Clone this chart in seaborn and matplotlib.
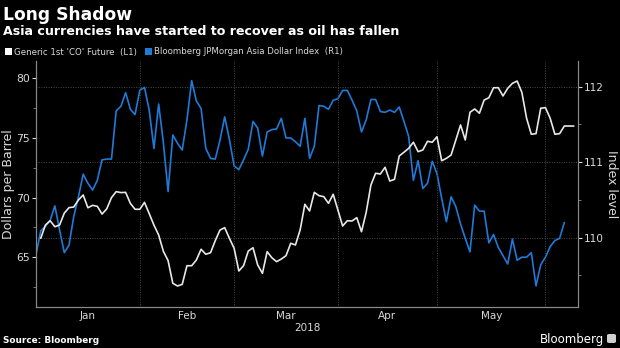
import numpy as np
import pandas as pd
import matplotlib
matplotlib.use("Agg")
import matplotlib.pyplot as plt
from matplotlib.patches import Patch, FancyBboxPatch
from matplotlib.ticker import MultipleLocator, FixedLocator, NullFormatter
import seaborn as sns

# ---------------- data ----------------
title = "Long Shadow"
subtitle = "Asia currencies have started to recover as oil has fallen"
oil_label = "Generic 1st 'CO' Future  (L1)"
fx_label = "Bloomberg JPMorgan Asia Dollar Index  (R1)"
left_label = "Dollars per Barrel"
right_label = "Index level"
year_label = "2018"
source_text = "Source: Bloomberg"
brand_text = "Bloomberg"

trading_days = pd.bdate_range("2018-01-02", periods=115)

nan = np.nan
oil = [nan, 66.59, 67.70, 68.06, 67.56, 67.70, 68.70, 69.16, 69.21, 69.80,
       70.22, 69.15, 69.35, 69.27, 68.62, 69.06, 70.00, 70.50, 70.42, 70.44,
       69.52, 69.02, 69.02, 69.60, 68.66, 67.70, 66.87, 65.50, 64.72, 62.82,
       62.59, 62.73, 64.29, 64.29, 64.77, 65.67, 65.25, 65.38, 66.39, 67.28,
       67.48, 66.59, 65.75, 63.85, 64.29, 65.52, 65.80, 64.35, 63.65, 65.47,
       64.96, 64.63, 64.85, 65.13, 66.17, 66.03, 67.30, 69.44, 68.88, 70.44,
       70.16, 70.08, 69.52, 70.28, 68.96, 67.62, 68.06, 68.04, 68.32, 67.14,
       68.77, 71.06, 72.04, 71.98, 72.54, 71.39, 71.53, 73.49, 73.80, 74.13,
       74.64, 73.85, 73.99, 74.72, 74.64, 75.10, 73.09, 73.29, 73.57, 74.83,
       76.09, 74.83, 77.15, 77.43, 77.07, 78.18, 78.37, 79.21, 79.21, 78.52,
       79.16, 79.58, 79.77, 78.82, 76.65, 75.31, 75.36, 77.49, 77.54, 76.65,
       75.31, 75.36, 76.00, 76.00, 76.00]

fx = [109.77, 110.09, 110.15, 110.23, 110.42, 110.10, 109.80, 109.90, 110.28, 110.54,
      110.84, 110.72, 110.63, 110.76, 111.03, 111.04, 111.04, 111.68, 111.74, 111.92,
      111.70, 111.63, 111.95, 111.99, 111.69, 111.18, 111.77, 111.26, 110.61, 111.36,
      111.25, 111.16, 111.56, 112.08, 111.81, 111.71, 111.18, 111.05, 111.04, 111.29,
      111.60, 111.30, 110.95, 110.90, 111.03, 111.17, 111.54, 111.45, 111.08, 111.40,
      111.43, 111.44, 111.58, 111.32, 111.32, 111.27, 111.21, 111.58, 111.05, 111.21,
      111.75, 111.74, 111.70, 111.82, 111.84, 111.95, 111.95, 111.82, 111.68, 111.40,
      111.56, 111.83, 111.83, 111.67, 111.66, 111.69, 111.66, 111.73, 111.54, 111.34,
      110.76, 111.02, 110.65, 110.72, 111.01, 110.85, 110.52, 110.21, 110.54, 110.41,
      110.18, 109.99, 109.81, 110.43, 110.35, 110.35, 109.93, 110.04, 109.87, 109.76,
      109.65, 109.98, 109.70, 109.74, 109.74, 109.80, 109.36, 109.64, 109.74, 109.88,
      109.96, 109.99, 110.20, nan, nan]

# ---------------- style ----------------
BG = "#000000"
WHITE_LINE = "#e8e8e8"
BLUE_LINE = "#1f7ad8"
TXT = "#d9d9d9"
SPINE = "#8a8a8a"
GRID = "#4a4a4a"

sns.set_style("dark", {"axes.facecolor": BG, "figure.facecolor": BG})
plt.rcParams["font.family"] = ["DejaVu Sans"]

df = pd.DataFrame({"date": trading_days, "oil": oil, "fx": fx})
df["pos"] = np.arange(len(df))

fig = plt.figure(figsize=(6.2, 3.48), dpi=100, facecolor=BG)
ax = fig.add_axes([36 / 620, 1 - 307 / 348, (578 - 36) / 620, (307 - 61) / 348])
ax.set_facecolor(BG)
ax2 = ax.twinx()

sns.lineplot(data=df.dropna(subset=["fx"]), x="pos", y="fx", ax=ax2,
             color=BLUE_LINE, linewidth=1.2)
sns.lineplot(data=df.dropna(subset=["oil"]), x="pos", y="oil", ax=ax,
             color=WHITE_LINE, linewidth=1.2)
ax.set_zorder(ax2.get_zorder() + 1)
ax.patch.set_visible(False)

ax.set_xlim(0, 114.9)
ax.set_ylim(60.83, 81.45)
ax2.set_ylim(109.08, 112.34)

# month boundaries from the dates
months = df["date"].dt.month.values
starts = [0] + [i for i in range(1, len(months)) if months[i] != months[i - 1]]
label_pos = [(starts[k] + starts[k + 1]) / 2 for k in range(len(starts) - 1)]
label_txt = [df["date"].iloc[starts[k]].strftime("%b") for k in range(len(starts) - 1)]

ax.xaxis.set_major_locator(FixedLocator(starts))
ax.xaxis.set_major_formatter(NullFormatter())
ax.set_xticks(label_pos, minor=True)
ax.set_xticklabels(label_txt, minor=True)
ax.tick_params(axis="x", which="major", length=3, color=SPINE, direction="out")
ax.tick_params(axis="x", which="minor", length=0, labelsize=7.5, labelcolor=TXT, pad=3)
ax.set_xlabel(year_label, color=TXT, fontsize=7.5, labelpad=1)
ax2.set_xlabel("")

ax.yaxis.set_major_locator(MultipleLocator(5))
ax.yaxis.set_minor_locator(MultipleLocator(2.5))
ax.tick_params(axis="y", which="major", length=3, color=TXT, labelsize=7.8,
               labelcolor=TXT, pad=1.5)
ax.tick_params(axis="y", which="minor", length=2, color=SPINE)
ax.set_ylabel(left_label, color=TXT, fontsize=9, va="center")
ax.yaxis.set_label_coords(-0.05, 0.5)

ax2.yaxis.set_major_locator(MultipleLocator(1))
ax2.yaxis.set_minor_locator(MultipleLocator(0.5))
ax2.tick_params(axis="y", which="major", length=3, color=TXT, labelsize=7.6,
                labelcolor=TXT, pad=1.5)
ax2.tick_params(axis="y", which="minor", length=2, color=SPINE)
ax2.set_ylabel(right_label, color=TXT, fontsize=9, rotation=270, va="center")
ax2.yaxis.set_label_coords(1.0625, 0.5)

# grid: vertical at month starts, horizontal at right-axis majors
ax.grid(False)
ax2.grid(False)
for s in starts[1:]:
    ax.axvline(s, color=GRID, linestyle=(0, (1, 1.5)), linewidth=0.7, zorder=0)
for v in [110, 111, 112]:
    ax2.axhline(v, color=GRID, linestyle=(0, (1, 1.5)), linewidth=0.7, zorder=0)

for a in (ax, ax2):
    a.spines["top"].set_visible(False)
    for sp in ("left", "right", "bottom"):
        a.spines[sp].set_visible(True)
        a.spines[sp].set_color(SPINE)
        a.spines[sp].set_linewidth(0.8)

# titles
fig.text(3 / 620, 1 - 20 / 348, title, color="white", fontsize=12.3, fontweight="bold",
         ha="left", va="baseline")
fig.text(3 / 620, 1 - 35 / 348, subtitle, color="white", fontsize=9.1, fontweight="bold",
         ha="left", va="baseline")

handles = [Patch(facecolor="white", edgecolor="none"),
           Patch(facecolor=BLUE_LINE, edgecolor="none")]
fig.legend(handles, [oil_label, fx_label], loc="center left",
           bbox_to_anchor=(0.0, 1 - 52 / 348), ncol=2, frameon=False,
           handlelength=0.75, handleheight=0.75, handletextpad=0.25,
           columnspacing=1.0, fontsize=6.2, labelcolor=TXT, borderaxespad=0.2)

fig.text(3 / 620, 1 - 343 / 348, source_text, color="white", fontsize=6.4,
         fontweight="bold", ha="left", va="baseline")
fig.text(604 / 620, 1 - 343 / 348, brand_text, color="white", fontsize=8.5,
         ha="right", va="baseline")
fig.patches.append(FancyBboxPatch(
    (607 / 620, 1 - 343 / 348), 9 / 620, 9 / 348, boxstyle="round,pad=0,rounding_size=0.004",
    transform=fig.transFigure, facecolor="#cfcfcf", edgecolor="none"))

fig.savefig("out.png", dpi=100, facecolor=BG)
